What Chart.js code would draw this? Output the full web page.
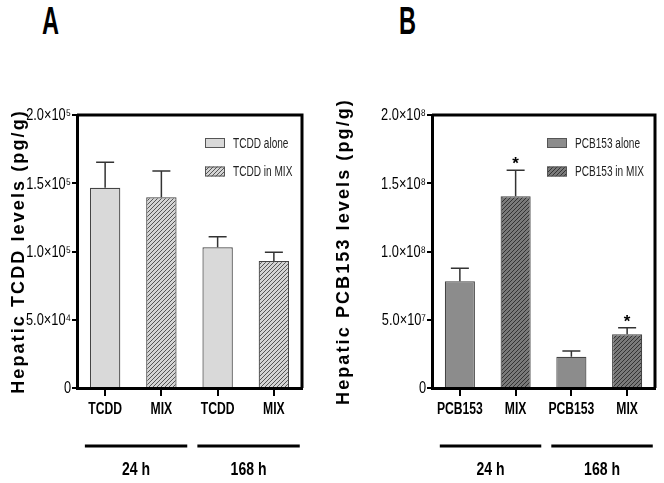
<!DOCTYPE html>
<html>
<head>
<meta charset="utf-8">
<script src="https://cdn.jsdelivr.net/npm/chart.js@4.4.1/dist/chart.umd.min.js"></script>
<style>
  html, body { margin: 0; padding: 0; background: #fff; }
  #wrap { position: relative; width: 664px; height: 483px; overflow: hidden; }
  .box { position: absolute; top: 0; width: 332px; height: 483px; }
  .letter {
    position: absolute; top: 0px;
    font: bold 38px "Liberation Sans", Arial, sans-serif;
    transform: scaleX(0.62); transform-origin: left top; color: #000;
  }
</style>
</head>
<body>
<div id="wrap">
  <div class="letter" style="left:42px">A</div>
  <div class="letter" style="left:399px">B</div>
  <div class="box" style="left:0"><canvas id="chartA" width="332" height="483"></canvas></div>
  <div class="box" style="left:332px"><canvas id="chartB" width="332" height="483"></canvas></div>
</div>
<script>
// --- дані ---
const timepoints = ["24 h", "168 h"];

const labelsA = ["TCDD", "MIX", "TCDD", "MIX"];
const tcddAlone = [146700, null, 103100, null];
const tcddAloneErr = [18700, null, 7700, null];
const tcddMix = [null, 139700, null, 93000];
const tcddMixErr = [null, 19300, null, 6400];
const tcddMixSig = [false, false, false, false];

const labelsB = ["PCB153", "MIX", "PCB153", "MIX"];
const pcbAlone = [78200000, null, 22900000, null];
const pcbAloneErr = [9500000, null, 4200000, null];
const pcbMix = [null, 140400000, null, 39300000];
const pcbMixErr = [null, 19100000, null, 4900000];
const pcbMixSig = [false, true, false, true];

const SANS = '"Liberation Sans", Arial, sans-serif';

function makeHatch(bg, line) {
  const c = document.createElement("canvas");
  c.width = 4;
  c.height = 4;
  const g = c.getContext("2d");
  g.fillStyle = bg;
  g.fillRect(0, 0, 4, 4);
  g.strokeStyle = line;
  g.lineWidth = 1;
  g.beginPath();
  g.moveTo(0, 4); g.lineTo(4, 0);
  g.moveTo(-1, 1); g.lineTo(1, -1);
  g.moveTo(3, 5); g.lineTo(5, 3);
  g.stroke();
  return g.createPattern(c, "repeat");
}

function sciLabel(v) {
  if (v === 0) return "0";
  const sup = "⁰¹²³⁴⁵⁶⁷⁸⁹";
  const exp = Math.floor(Math.log10(v) + 1e-9);
  const mant = v / Math.pow(10, exp);
  const e = String(exp).split("").map((d) => sup[+d]).join("");
  return mant.toFixed(1) + "×10" + e;
}

// вузький текст (стиснутий по горизонталі)
function narrowText(ctx, text, x, y, sx) {
  ctx.save();
  ctx.translate(x, y);
  ctx.scale(sx, 1);
  ctx.fillText(text, 0, 0);
  ctx.restore();
}

// Підписи поділок осей вузьким шрифтом, позиції беремо зі шкал Chart.js
const narrowTicks = {
  id: "narrowTicks",
  afterDraw(chart) {
    const ctx = chart.ctx;
    const xs = chart.scales.x;
    const ys = chart.scales.y;
    ctx.save();
    ctx.fillStyle = "#000";
    ctx.font = "16px " + SANS;
    ctx.textAlign = "right";
    ctx.textBaseline = "middle";
    ys.ticks.forEach((t, i) => {
      narrowText(ctx, t.label, ys.right - 6, ys.getPixelForTick(i) + 1, 0.8);
    });
    ctx.font = "bold 16px " + SANS;
    ctx.textAlign = "center";
    xs.ticks.forEach((t, i) => {
      narrowText(ctx, t.label, xs.getPixelForTick(i), 410, 0.76);
    });
    ctx.restore();
  },
};

// Похибки (тільки верхня половина) та зірочки
const errorBars = {
  id: "errorBars",
  afterDatasetsDraw(chart) {
    const ctx = chart.ctx;
    const y = chart.scales.y;
    chart.data.datasets.forEach((ds, di) => {
      const meta = chart.getDatasetMeta(di);
      meta.data.forEach((bar, i) => {
        if (ds.data[i] == null) return;
        const top = y.getPixelForValue(ds.data[i] + ds.errors[i]);
        ctx.save();
        ctx.strokeStyle = "#333";
        ctx.lineWidth = 1.5;
        ctx.beginPath();
        ctx.moveTo(bar.x, bar.y);
        ctx.lineTo(bar.x, top);
        ctx.moveTo(bar.x - 9, top);
        ctx.lineTo(bar.x + 9, top);
        ctx.stroke();
        if (ds.sig && ds.sig[i]) {
          ctx.fillStyle = "#000";
          ctx.font = "bold 17px " + SANS;
          ctx.textAlign = "center";
          ctx.textBaseline = "alphabetic";
          ctx.fillText("*", bar.x, top - 1);
        }
        ctx.restore();
      });
    });
  },
};

// Рамка, легенда, підпис осі Y і групи під віссю X
const decor = {
  id: "decor",
  afterDraw(chart, args, opts) {
    const ctx = chart.ctx;
    const a = chart.chartArea;
    const xs = chart.scales.x;
    ctx.save();
    ctx.strokeStyle = "#000";
    ctx.lineWidth = 3;
    ctx.beginPath();
    ctx.moveTo(a.left, a.top);
    ctx.lineTo(a.right, a.top);
    ctx.lineTo(a.right, a.bottom);
    ctx.stroke();

    // легенда
    chart.data.datasets.forEach((ds, i) => {
      const ly = opts.legendY + i * 28.5;
      ctx.fillStyle = ds.backgroundColor;
      ctx.fillRect(opts.legendX, ly - 5, 20, 10);
      ctx.strokeStyle = "#555";
      ctx.lineWidth = 1;
      ctx.strokeRect(opts.legendX + 0.5, ly - 4.5, 19, 9);
      ctx.fillStyle = "#222";
      ctx.font = "14px " + SANS;
      ctx.textAlign = "left";
      ctx.textBaseline = "middle";
      narrowText(ctx, ds.label, opts.legendX + 28, ly + 1, 0.72);
    });

    // підпис осі Y
    ctx.save();
    ctx.translate(opts.titleX, (a.top + a.bottom) / 2);
    ctx.rotate(-Math.PI / 2);
    ctx.fillStyle = "#000";
    ctx.font = "bold 18px " + SANS;
    ctx.letterSpacing = "2.1px";
    ctx.textAlign = "center";
    ctx.textBaseline = "alphabetic";
    ctx.fillText(opts.title, 0, 0);
    ctx.restore();

    // групи часу
    const sp = xs.getPixelForValue(1) - xs.getPixelForValue(0);
    timepoints.forEach((t, g) => {
      const x0 = xs.getPixelForValue(2 * g) - 0.36 * sp;
      const x1 = xs.getPixelForValue(2 * g + 1) + 0.46 * sp;
      ctx.strokeStyle = "#000";
      ctx.lineWidth = 3;
      ctx.beginPath();
      ctx.moveTo(x0, 446);
      ctx.lineTo(x1, 446);
      ctx.stroke();
      ctx.fillStyle = "#000";
      ctx.font = "bold 18px " + SANS;
      ctx.textAlign = "center";
      ctx.textBaseline = "middle";
      narrowText(ctx, t, (x0 + x1) / 2, 470, 0.78);
    });
    ctx.restore();
  },
};

function buildChart(id, cfg) {
  const ctx = document.getElementById(id).getContext("2d");
  return new Chart(ctx, {
    type: "bar",
    data: {
      labels: cfg.labels,
      datasets: [
        {
          label: cfg.names[0],
          data: cfg.alone,
          errors: cfg.aloneErr,
          backgroundColor: cfg.fill,
          borderColor: "#444",
          borderWidth: 1.2,
          grouped: false,
          categoryPercentage: 1,
          barPercentage: 0.54,
        },
        {
          label: cfg.names[1],
          data: cfg.mix,
          errors: cfg.mixErr,
          sig: cfg.sig,
          backgroundColor: cfg.hatch,
          borderColor: "#444",
          borderWidth: 1.2,
          grouped: false,
          categoryPercentage: 1,
          barPercentage: 0.54,
        },
      ],
    },
    options: {
      responsive: false,
      animation: false,
      layout: { padding: { top: 115, right: cfg.padRight, bottom: 0, left: 0 } },
      plugins: {
        legend: { display: false },
        tooltip: { enabled: false },
        decor: {
          legendX: cfg.legendX,
          legendY: 143,
          title: cfg.title,
          titleX: cfg.titleX,
        },
      },
      scales: {
        x: {
          afterFit: (s) => { s.height = 95; },
          grid: {
            display: true,
            drawOnChartArea: false,
            offset: false,
            tickLength: 8,
            lineWidth: 2,
            color: "#000",
          },
          border: { display: true, color: "#000", width: 3 },
          ticks: { display: false, autoSkip: false },
        },
        y: {
          min: 0,
          max: cfg.max,
          afterFit: (s) => { s.width = cfg.axisWidth; },
          grid: {
            display: true,
            drawOnChartArea: false,
            tickLength: 5,
            lineWidth: 2,
            color: "#000",
          },
          border: { display: true, color: "#000", width: 3 },
          ticks: {
            display: false,
            stepSize: cfg.max / 4,
            callback: (v) => sciLabel(v),
          },
        },
      },
    },
    plugins: [errorBars, narrowTicks, decor],
  });
}

buildChart("chartA", {
  labels: labelsA,
  names: ["TCDD alone", "TCDD in MIX"],
  alone: tcddAlone,
  aloneErr: tcddAloneErr,
  mix: tcddMix,
  mixErr: tcddMixErr,
  sig: tcddMixSig,
  fill: "#d9d9d9",
  hatch: makeHatch("#d4d4d4", "#555"),
  max: 200000,
  axisWidth: 77,
  padRight: 30,
  legendX: 205,
  title: "Hepatic TCDD levels (pg/g)",
  titleX: 24,
});

buildChart("chartB", {
  labels: labelsB,
  names: ["PCB153 alone", "PCB153 in MIX"],
  alone: pcbAlone,
  aloneErr: pcbAloneErr,
  mix: pcbMix,
  mixErr: pcbMixErr,
  sig: pcbMixSig,
  fill: "#8c8c8c",
  hatch: makeHatch("#7a7a7a", "#333"),
  max: 200000000,
  axisWidth: 100,
  padRight: 9,
  legendX: 215,
  title: "Hepatic PCB153 levels (pg/g)",
  titleX: 17,
});
</script>
</body>
</html>
